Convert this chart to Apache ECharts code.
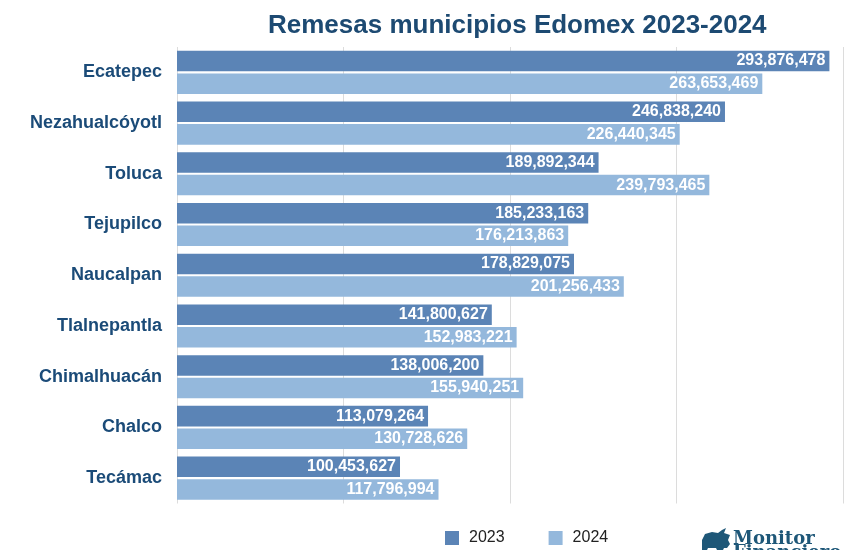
<!DOCTYPE html>
<html>
<head>
<meta charset="utf-8">
<script src="https://cdn.jsdelivr.net/npm/echarts@6/dist/echarts.min.js"></script>
<style>html,body{margin:0;padding:0;background:#fff}#c{width:850px;height:550px}</style>
</head>
<body>
<div id="c"></div>
<script>
const categories = ['Ecatepec','Nezahualcóyotl','Toluca','Tejupilco','Naucalpan','Tlalnepantla','Chimalhuacán','Chalco','Tecámac'];
const values2023 = [293876478, 246838240, 189892344, 185233163, 178829075, 141800627, 138006200, 113079264, 100453627];
const values2024 = [263653469, 226440345, 239793465, 176213863, 201256433, 152983221, 155940251, 130728626, 117796994];
const seriesNames = ['2023','2024'];

const chart = echarts.init(document.getElementById('c'));
const fmt = v => v.toLocaleString('en-US');
const labelCfg = {
  show: true, position: 'insideRight', distance: 4,
  color: '#fff', fontFamily: 'Liberation Sans, Arial, sans-serif', fontWeight: 'bold', fontSize: 16,
  formatter: p => fmt(p.value)
};
chart.setOption({
  animation: false,
  backgroundColor: '#fff',
  title: {
    text: 'Remesas municipios Edomex 2023-2024',
    left: 263, top: 8,
    textStyle: { fontFamily: 'Liberation Sans, Arial, sans-serif', fontWeight: 'bold', fontSize: 26, color: '#1d4a72' }
  },
  legend: {
    data: seriesNames, left: 440, top: 525, itemWidth: 14, itemHeight: 14, itemGap: 44,
    icon: 'rect',
    textStyle: { fontFamily: 'Liberation Sans, Arial, sans-serif', fontSize: 16, color: '#222', padding: [0,0,0,5] }
  },
  grid: { left: 177, right: 7, top: 47, bottom: 46.5, containLabel: false },
  xAxis: {
    type: 'value', min: 0, max: 300000000, interval: 75000000,
    axisLabel: { show: false }, axisLine: { show: false }, axisTick: { show: false },
    splitLine: { show: true, lineStyle: { color: '#dcdcdc', width: 1 } }
  },
  yAxis: {
    type: 'category', data: categories, inverse: true,
    axisLine: { show: false }, axisTick: { show: false },
    axisLabel: { margin: 15, fontFamily: 'Liberation Sans, Arial, sans-serif', fontWeight: 'bold', fontSize: 18, color: '#1b4b78' }
  },
  series: [
    { name: seriesNames[0], type: 'bar', data: values2023, itemStyle: { color: '#5b84b6' }, barGap: '10%', barCategoryGap: '15%', label: labelCfg },
    { name: seriesNames[1], type: 'bar', data: values2024, itemStyle: { color: '#94b8dc' }, barGap: '10%', barCategoryGap: '15%', label: labelCfg }
  ],
  graphic: [
    { type: 'text', x: 733, y: 530, style: { text: 'Monitor', font: 'bold 18px "DejaVu Serif", serif', fill: '#1e5778' } },
    { type: 'text', x: 733, y: 544, style: { text: 'Financiero', font: 'bold 18px "DejaVu Serif", serif', fill: '#1e5778' } },
    { type: 'polygon', shape: { points: [[702,540],[705,534],[712,532],[718,533],[722,530],[726,528],[724,533],[730,535],[728,540],[730,544],[727,548],[724,548],[722,552],[718,552],[716,548],[708,548],[706,552],[702,552]] }, style: { fill: '#1e5778' } }
  ]
});
</script>
</body>
</html>
